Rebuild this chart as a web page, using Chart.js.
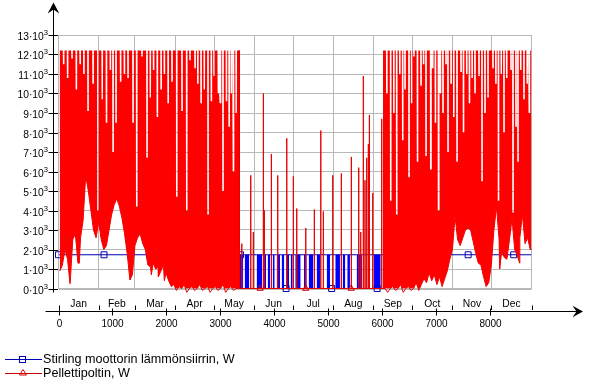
<!DOCTYPE html>
<html><head><meta charset="utf-8">
<script src="https://cdn.jsdelivr.net/npm/chart.js@4.4.1/dist/chart.umd.min.js"></script>
<style>html,body{margin:0;padding:0;background:#fff;}canvas{display:block;}</style>
</head><body>
<canvas id="c" width="589" height="382"></canvas>
<script>
// ---- data ----
const monthNames = ['Jan','Feb','Mar','Apr','May','Jun','Jul','Aug','Sep','Oct','Nov','Dec'];
const monthEdges = [0,744,1416,2160,2880,3624,4344,5088,5832,6552,7296,8016,8760];
const hourTicks = [0,1000,2000,3000,4000,5000,6000,7000,8000];
const wattTicks = [0,1000,2000,3000,4000,5000,6000,7000,8000,9000,10000,11000,12000,13000];
const binHours = 48;
// Pellettipoltin, heating seasons: lower envelope per 2-day bin (W)
const winter1Start = 0, winter1End = 3344;
const winter2Start = 5976, winter2TopStart = 6020;
const redWinter1Low = [900,1200,2000,1500,300,2500,2800,1300,2600,3500,
  5800,5000,4000,3000,2600,3400,2500,2000,2200,3000,
  3800,4300,4600,4200,3600,2800,1800,500,700,2200,
  2600,2800,2300,2000,1200,1100,1300,1000,1100,900,
  1200,800,400,100,200,-100,100,0,200,-200,
  0,100,-100,0,200,-100,0,100,-200,0,
  100,-100,0,200,-200,0,100,-100,0,0];
const redWinter2Low = [0,0,-200,0,100,-100,0,200,-200,0,
  100,-100,0,300,-100,200,500,300,800,400,
  700,200,600,100,500,900,1500,2000,3700,2500,
  2200,2600,3000,3100,3000,2400,1800,1300,1200,600,
  100,300,1200,3000,4200,2500,1900,1600,1500,2500,
  3600,2000,1700,2600,3800,2300,2600,2000];
// single-hour drops of the lower envelope
const redLowSpikeHours = [213,385,1324,1720,1850,1960,8170,8540];
const redLowSpikeWatts = [250,1300,450,700,600,400,1000,1300];
// upper envelope: burner maximum and the hours where the output stays below it
const redTop = 12200;
const redStartWatts = 10400;
const redWinter1DipHours = [95,168,250,330,400,470,546,640,730,810,888,960,1010,1065,1150,1220,1287,1380,1448,1546,1639,1700,1760,1830,1900,1960,2030,2102,2189,2287,2374,2435,2528,2580,2640,2700,2769,2830,2880,2960,3000,3046,3110,3160,3200,3240,3290];
const redWinter1DipWatts = [11500,10800,11800,10200,11500,11000,9100,10500,4000,9700,8500,11200,7000,8500,10600,11000,10800,8500,4200,11900,6700,9800,11200,8800,10200,11000,9500,10600,4700,9100,4000,11700,11300,10500,9500,10200,3800,9600,10900,10000,9500,5000,9600,8300,10000,6000,9000];
const redWinter2DipHours = [6080,6152,6210,6263,6320,6374,6417,6491,6540,6583,6648,6713,6760,6806,6893,6930,6980,7037,7074,7120,7176,7213,7270,7320,7380,7454,7500,7560,7610,7660,7713,7787,7843,7898,7954,8046,8100,8148,8200,8250,8300,8380,8417,8472,8509,8560,8620,8680,8720];
const redWinter2DipWatts = [10000,4500,9000,3800,11000,7600,10200,5700,9500,11900,6500,10400,11500,6800,6100,11300,8500,4000,10000,9000,11500,7000,10500,8800,6500,11100,8000,11000,9500,10800,10000,10900,5500,9000,9800,11300,10500,4500,11000,8000,10800,11200,3900,8300,6500,11200,9700,10500,9000];
// summer: single-hour burner starts
const redSummerSpikeHours = [3393,3559,3607,3793,3811,3941,4059,4226,4348,4411,4578,4737,4856,4904,5078,5237,5422,5559,5596,5644,5676,5707,5737,5756,5819,5985];
const redSummerSpikeWatts = [2300,5800,2900,10000,4000,6900,5800,7700,5750,4100,3100,4050,8100,3950,5800,5900,6750,6200,2900,10900,5550,6700,7400,8900,4900,8700];
// Stirling moottorin lämmönsiirrin: on-level and summer periods of fast on/off cycling (hours)
const blueLevel = 1730;
const blueCyclingStart = [3361,3448,3670,3806,3874,3967,4041,4133,4226,4300,4385,4546,4633,4781,4967,5126,5263,5348,5522,5843];
const blueCyclingEnd   = [3422,3533,3769,3843,3917,4004,4102,4181,4269,4337,4485,4596,4719,4843,5028,5213,5311,5398,5620,5967];
const blueMarkerHours = [0,843,1686,2529,3372,4215,5058,5901,6744,7587,8430];
const blueMarkerWatts = [1730,1730,1730,1730,1730,0,0,0,1730,1730,1730];
const redMarkerHours = [3735,4578,5421];
const redMarkerWatts = [0,0,0];
const legendLabels = ['Stirling moottorin lämmönsiirrin, W','Pellettipoltin, W'];

// ---- build point tables ----
const dipOuter = 16, dipInner = 13;
let redLowPts = [];
redWinter1Low.forEach((v,i)=>redLowPts.push({x:winter1Start+i*binHours+binHours/2, y:v}));
redLowPts.push({x:winter1End+16, y:0});
redLowPts.push({x:winter2Start, y:0});
redWinter2Low.forEach((v,i)=>redLowPts.push({x:winter2Start+i*binHours+binHours/2, y:v}));
redLowPts.push({x:8760, y:redWinter2Low[redWinter2Low.length-1]});
redLowSpikeHours.forEach((h,i)=>redLowPts.push({x:h, y:redLowSpikeWatts[i]}));
redLowPts.sort((a,b)=>a.x-b.x);

const redHighPts = [];
function addTop(startH, endH, dipH, dipW){
  redHighPts.push({x:startH, y:redTop});
  dipH.forEach((h,i)=>{
    redHighPts.push({x:h-dipOuter, y:redTop});
    redHighPts.push({x:h-dipInner, y:dipW[i]});
    redHighPts.push({x:h+dipInner, y:dipW[i]});
    redHighPts.push({x:h+dipOuter, y:redTop});
  });
  redHighPts.push({x:endH, y:redTop});
}
redHighPts.push({x:0, y:redStartWatts});
addTop(16, winter1End, redWinter1DipHours, redWinter1DipWatts);
redHighPts.push({x:winter1End+8, y:0, summer:true});
redSummerSpikeHours.forEach((h,i)=>{
  redHighPts.push({x:h-3, y:0, summer:true});
  redHighPts.push({x:h, y:redSummerSpikeWatts[i], summer:true});
  redHighPts.push({x:h+3, y:0, summer:true});
});
redHighPts.push({x:winter2TopStart-10, y:0, summer:true});
addTop(winter2TopStart, 8760, redWinter2DipHours, redWinter2DipWatts);

const bluePoints = [{x:0, y:blueLevel}];
blueCyclingStart.forEach((s,i)=>{
  bluePoints.push({x:s, y:blueLevel, cyc:true});
  bluePoints.push({x:blueCyclingEnd[i], y:blueLevel});
});
bluePoints.push({x:8760, y:blueLevel});

const blueMarkers = blueMarkerHours.map((h,i)=>({x:h, y:blueMarkerWatts[i]}));
const redMarkers = redMarkerHours.map((h,i)=>({x:h, y:redMarkerWatts[i]}));

const BLUE_LINE = '#0000b4', BLUE_FILL = '#0000ff', RED = '#ff0000', RED_EDGE = '#e80000', GRID = '#b8b8b8';
const FONT = '"Liberation Sans", Arial, sans-serif';

// ---- decoration plugin: axes with arrows, tick labels, month row, legend ----
const axesPlugin = {
  id: 'mathcadAxes',
  afterDraw(chart){
    const {ctx, chartArea: ca, scales: {x, y}} = chart;
    ctx.save();
    ctx.strokeStyle = '#000'; ctx.fillStyle = '#000'; ctx.lineWidth = 1;
    const ax = Math.round(ca.left - 6) + 0.5;
    const ay = Math.round(ca.bottom + 22) + 0.5;
    ctx.beginPath(); ctx.moveTo(ax, ca.bottom + 4); ctx.lineTo(ax, 8); ctx.stroke();
    ctx.beginPath(); ctx.moveTo(ax, 2.5); ctx.lineTo(ax + 5.8, 13.5); ctx.lineTo(ax, 9.5); ctx.lineTo(ax - 5.8, 13.5); ctx.closePath(); ctx.fill();
    const mainFont = '10.3px ' + FONT, supFont = '7.6px ' + FONT;
    const right = ax - 5.5;
    wattTicks.forEach(v=>{
      const py = Math.round(y.getPixelForValue(v)) + 0.5;
      ctx.beginPath(); ctx.moveTo(ax - 5, py); ctx.lineTo(ax + 4.5, py); ctx.stroke();
      const main = (v/1000) + '·10';
      ctx.font = supFont; const sw = ctx.measureText('3').width;
      ctx.font = mainFont; const mw = ctx.measureText(main).width;
      ctx.textAlign = 'left'; ctx.textBaseline = 'alphabetic';
      ctx.fillText(main, right - sw - mw, py + 4.3);
      ctx.font = supFont; ctx.fillText('3', right - sw, py - 0.2);
    });
    ctx.beginPath(); ctx.moveTo(ca.left - 13, ay); ctx.lineTo(578, ay); ctx.stroke();
    ctx.beginPath(); ctx.moveTo(583, ay); ctx.lineTo(572.5, ay - 5.8); ctx.lineTo(576.5, ay); ctx.lineTo(572.5, ay + 5.8); ctx.closePath(); ctx.fill();
    ctx.font = '10px ' + FONT; ctx.textAlign = 'center';
    hourTicks.forEach(h=>{
      const px = Math.round(x.getPixelForValue(h)) + 0.5;
      ctx.beginPath(); ctx.moveTo(px, ay - 3); ctx.lineTo(px, ay + 4); ctx.stroke();
      ctx.fillText(String(h), px, ay + 15);
    });
    monthEdges.forEach(h=>{
      const px = Math.round(x.getPixelForValue(h)) + 0.5;
      ctx.beginPath(); ctx.moveTo(px, ay - 6); ctx.lineTo(px, ay - 1.5); ctx.stroke();
    });
    ctx.font = '10.3px ' + FONT;
    monthNames.forEach((m,i)=>{
      const px = x.getPixelForValue((monthEdges[i] + monthEdges[i+1]) / 2);
      ctx.fillText(m, px, ay - 4.3);
    });
    ctx.textAlign = 'left';
    ctx.font = '12.6px ' + FONT;
    const ly1 = 359.5, ly2 = 373.5;
    ctx.strokeStyle = BLUE_LINE;
    ctx.beginPath(); ctx.moveTo(5, ly1); ctx.lineTo(42, ly1); ctx.stroke();
    ctx.strokeRect(19.5, ly1 - 3, 6, 6);
    ctx.fillStyle = '#000'; ctx.fillText(legendLabels[0], 43, ly1 + 3.5);
    ctx.strokeStyle = '#d00000';
    ctx.beginPath(); ctx.moveTo(5, ly2); ctx.lineTo(42, ly2); ctx.stroke();
    ctx.beginPath(); ctx.moveTo(23, ly2 - 4); ctx.lineTo(26.5, ly2 + 1.5); ctx.lineTo(19.5, ly2 + 1.5); ctx.closePath(); ctx.stroke();
    ctx.fillStyle = '#000'; ctx.fillText(legendLabels[1], 43, ly2 + 3.5);
    ctx.restore();
  }
};

const isSummerSeg = c => !!(redHighPts[c.p0DataIndex].summer || redHighPts[c.p1DataIndex].summer);

new Chart(document.getElementById('c'), {
  type: 'line',
  data: {
    datasets: [
      { label: 'Pellettipoltin low', data: redLowPts, order: 2, borderColor: RED_EDGE, borderWidth: 1,
        pointRadius: 0, fill: false, tension: 0, clip: false },
      { label: legendLabels[1], data: redHighPts, order: 1, borderColor: RED_EDGE, borderWidth: 1,
        backgroundColor: RED, pointRadius: 0, fill: '-1', tension: 0, clip: false,
        segment: { borderColor: c => isSummerSeg(c) ? RED_EDGE : 'rgba(0,0,0,0)' } },
      { label: 'redMarkers', data: redMarkers, order: 0, showLine: false, pointStyle: 'triangle',
        pointRadius: 3.6, pointBorderColor: '#d00000', pointBackgroundColor: 'rgba(0,0,0,0)', pointBorderWidth: 1, clip: false },
      { label: legendLabels[0], data: bluePoints, order: 4, borderColor: BLUE_LINE, borderWidth: 1,
        pointRadius: 0, tension: 0, fill: 'origin', backgroundColor: 'rgba(0,0,0,0)',
        segment: { backgroundColor: c => bluePoints[c.p0DataIndex].cyc ? BLUE_FILL : 'rgba(0,0,0,0)' } },
      { label: 'blueMarkers', data: blueMarkers, order: 3, showLine: false, pointStyle: 'rect',
        pointRadius: 4.2, pointBorderColor: BLUE_LINE, pointBackgroundColor: 'rgba(0,0,0,0)', pointBorderWidth: 1, clip: false }
    ]
  },
  options: {
    responsive: false, animation: false, events: [],
    layout: { padding: { left: 58.5, right: 57.5, top: 35, bottom: 93.5 } },
    plugins: { legend: { display: false }, tooltip: { enabled: false } },
    scales: {
      x: { type: 'linear', min: 0, max: 8760,
        afterBuildTicks: s => { s.ticks = monthEdges.map(v => ({value: v})); },
        afterFit: s => { s.height = 0; },
        ticks: { display: false }, border: { display: false },
        grid: { color: GRID, drawTicks: false, lineWidth: 1 } },
      y: { type: 'linear', min: 0, max: 13000,
        afterBuildTicks: s => { s.ticks = wattTicks.map(v => ({value: v})); },
        afterFit: s => { s.width = 0; },
        ticks: { display: false }, border: { display: false },
        grid: { color: GRID, drawTicks: false, lineWidth: c => c.tick && c.tick.value === 0 ? 2 : 1 } }
    }
  },
  plugins: [axesPlugin]
});
</script>
</body></html>
